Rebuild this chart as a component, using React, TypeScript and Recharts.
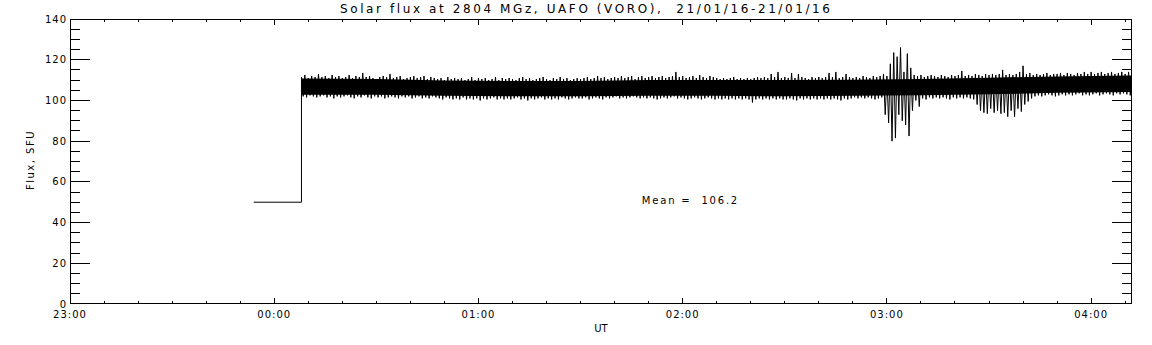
import React from 'react';
import { ComposedChart, Line, Area, XAxis, YAxis, ReferenceDot } from 'recharts';

// time axis: minutes after 23:00 UT
const xTicks = [0, 60, 120, 180, 240, 300];
const xTickLabels = ['23:00', '00:00', '01:00', '02:00', '03:00', '04:00'];
const xMinorTicks = [0, 10, 20, 30, 40, 50, 60, 70, 80, 90, 100, 110, 120, 130, 140, 150, 160, 170, 180, 190, 200, 210, 220, 230, 240, 250, 260, 270, 280, 290, 300, 310];
const yTicks = [0, 20, 40, 60, 80, 100, 120, 140];
const yMinorTicks = [0, 5, 10, 15, 20, 25, 30, 35, 40, 45, 50, 55, 60, 65, 70, 75, 80, 85, 90, 95, 100, 105, 110, 115, 120, 125, 130, 135, 140];

// flat part before the receiver came up
const stepTimes = [54, 68];
const stepFlux = [50, 50];

// noisy record: upper excursion at each whole minute from 68, lower one half a minute later
const bandStart = 68;
const bandHighs = [
  // 00:08 - 00:47
  111.5, 112.5, 111, 112, 111.5, 113, 111.5, 112, 111, 112.5, 111.5, 112, 111, 111.5, 112.5, 111, 112, 111.5, 113.5, 111.5,
  112, 111, 110.5, 111.5, 112, 111.5, 113, 111, 111.5, 112, 110.5, 111, 111.5, 112, 111, 111.5, 112, 110.5, 111.5, 111,
  // 00:48 - 01:29
  110.5, 111, 110, 111.5, 110.5, 111, 110.5, 111, 110, 110.5, 111.5, 110, 111, 110.5, 111, 110, 110.5, 111.5, 110, 111,
  110.5, 111, 110.5, 110, 111, 111.5, 110.5, 111, 110, 110.5, 111, 111.5, 110.5, 110, 111, 110.5, 111.5, 110.5, 111, 110,
  110.5, 111,
  // 01:30 - 02:09
  110.5, 111, 111.5, 110.5, 111, 112, 111, 111.5, 110.5, 111, 111.5, 111, 112, 111, 111.5, 112, 110.5, 111.5, 112, 111,
  111.5, 112, 111, 111.5, 112, 111, 111.5, 112, 114, 111.5, 112, 111, 111.5, 112, 111, 112.5, 111.5, 111, 112, 111.5,
  // 02:10 - 02:49
  111, 110.5, 111, 110.5, 111, 111.5, 110.5, 111, 110.5, 111, 110.5, 111, 111.5, 111, 111.5, 111, 113, 111.5, 114, 111,
  111.5, 111, 113.5, 111, 113, 111.5, 111, 110.5, 111.5, 111, 111.5, 111, 111.5, 113.5, 111.5, 114, 111, 111.5, 113, 111.5,
  // 02:50 - 03:29
  111, 111.5, 111, 112, 111.5, 111, 112, 111.5, 112, 113, 112, 118, 123.5, 121.5, 126, 114, 123, 116, 112.5, 112,
  112.5, 111.5, 112, 112.5, 112, 111.5, 112.5, 112, 111.5, 112.5, 112, 112.5, 114.5, 112, 112.5, 112, 113, 112.5, 112, 113,
  // 03:30 - 04:12
  112.5, 113, 112.5, 113, 115, 112.5, 113, 112.5, 113, 114, 117, 113, 113.5, 112.5, 113, 112.5, 113, 113.5, 112.5, 113,
  113, 113.5, 112.5, 113.5, 113, 112.5, 113.5, 113, 114, 113, 114, 113, 113.5, 114, 113, 113.5, 114, 113, 113.5, 114,
  113, 114, 113.5,
];
const bandLows = [
  // 00:08 - 00:47
  102, 101.5, 102.5, 102, 101.5, 102, 102.5, 101.5, 102, 101, 102, 101.5, 102, 102.5, 101.5, 101, 102, 101.5, 102.5, 101.5,
  101, 102, 101.5, 102, 101, 101.5, 102, 101.5, 101, 102, 101.5, 102, 101, 101.5, 102, 101, 101.5, 101, 102, 101.5,
  // 00:48 - 01:29
  101, 100.5, 101.5, 101, 100.5, 101, 100.5, 101.5, 100.5, 101, 100.5, 101, 100, 101, 100.5, 101, 101.5, 100.5, 101, 100.5,
  101, 100.5, 101, 101.5, 100.5, 101, 100, 101, 100.5, 101, 101.5, 100.5, 101, 100.5, 101, 100.5, 101.5, 101, 100.5, 101,
  101.5, 101,
  // 01:30 - 02:09
  101, 101.5, 100.5, 101, 101.5, 101, 100.5, 101.5, 101, 101.5, 102, 101, 101.5, 101, 101.5, 102, 101.5, 101, 101.5, 101,
  101.5, 101, 100.5, 101, 101.5, 101, 101.5, 102, 101, 101.5, 101, 100.5, 101, 101.5, 101, 100.5, 101, 101.5, 101, 100.5,
  // 02:10 - 02:49
  101, 100.5, 101, 100.5, 101, 100.5, 101, 100.5, 101, 100.5, 99, 100.5, 101, 100.5, 101, 100.5, 101, 100.5, 101, 100.5,
  100.5, 101, 100.5, 100, 101, 100.5, 101, 100.5, 101, 100.5, 101, 100.5, 101, 100.5, 101, 100.5, 100, 101, 100.5, 101,
  // 02:50 - 03:29
  101.5, 101, 101.5, 101, 101.5, 101, 100.5, 101, 101.5, 93, 89, 80, 81.5, 93, 90, 88, 82.5, 95, 100, 97,
  101, 100.5, 101.5, 101, 101.5, 101, 101.5, 101, 100.5, 101.5, 101, 101.5, 101, 101.5, 101, 100.5, 98, 95, 94, 93.5,
  // 03:30 - 04:11
  96, 94, 95, 93.5, 94, 92, 95, 92, 96, 94.5, 98, 99.5, 101, 102, 102.5, 102, 102.5, 103, 102.5, 102,
  102.5, 103, 102.5, 103, 102.5, 103, 103.5, 102.5, 103, 102.5, 103, 103.5, 102.5, 103, 103.5, 103, 102.5, 103.5, 103, 103.5,
  103, 102.5,
];

// solid core of the band
const coreTimes = [68, 90, 110, 130, 150, 170, 190, 210, 230, 250, 270, 290, 312];
const coreLow = [102.8, 102.8, 102.3, 102, 102, 102.3, 102.3, 102, 102.3, 102.5, 103, 103.8, 104.2];
const coreHigh = [110.8, 110.5, 109.8, 109.5, 109.5, 110, 110, 110, 110.2, 110.5, 111.2, 111.8, 112.3];

const meanText = 'Mean =  106.2';

const fluxRows: { t: number; flux: number }[] = stepTimes.map((t, i) => ({ t, flux: stepFlux[i] }));
bandHighs.forEach((h, i) => {
  fluxRows.push({ t: bandStart + i, flux: h });
  if (i < bandLows.length) fluxRows.push({ t: bandStart + i + 0.5, flux: bandLows[i] });
});
const coreRows = coreTimes.map((t, i) => ({ t, core: [coreLow[i], coreHigh[i]] }));
const stepRows = stepTimes.map((t, i) => ({ t, flux: stepFlux[i] }));

const font = 'DejaVu Sans';
const tickStyle = { fill: '#000', fontSize: 10, fontFamily: font, letterSpacing: 1 };
const lineStyle = { stroke: '#000', strokeWidth: 1, shapeRendering: 'crispEdges' };
const thin = 0.01; // axes need a non-zero size to be drawn
const noLabel = () => <g />; // keeps the tick marks, draws no text

export default function App() {
  return (
    <div style={{ position: 'absolute', left: 0, top: 0, width: 1152, height: 345, background: '#fff' }}>
      <div style={{ position: 'absolute', left: 340, top: 2, fontFamily: font, fontSize: 12, lineHeight: '14px', letterSpacing: 2.6, whiteSpace: 'pre', color: '#000' }}>
        Solar flux at 2804 MGz, UAFO (VORO),  21/01/16-21/01/16
      </div>
      <div style={{ position: 'absolute', left: 30, top: 160, transform: 'translate(-50%, -50%) rotate(-90deg)', fontFamily: font, fontSize: 10, letterSpacing: 1.5, whiteSpace: 'pre', color: '#000' }}>
        Flux, SFU
      </div>
      <ComposedChart width={1152} height={345} margin={{ top: 19, right: 20, bottom: 41, left: 70 }}>
        <XAxis xAxisId="b" type="number" dataKey="t" domain={[0, 312]} allowDataOverflow ticks={xTicks}
          tickFormatter={(v, i) => xTickLabels[i]} tickSize={-6} tickMargin={13} height={thin}
          axisLine={lineStyle} tickLine={lineStyle} tick={tickStyle} interval={0}
          label={{ value: 'UT', position: 'bottom', offset: 21, fill: '#000', fontSize: 10, fontFamily: font }} />
        <XAxis xAxisId="bm" type="number" dataKey="t" domain={[0, 312]} allowDataOverflow ticks={xMinorTicks}
          tickSize={-3} height={thin} axisLine={false} tickLine={lineStyle} tick={noLabel} interval={0} />
        <XAxis xAxisId="t" orientation="top" type="number" dataKey="t" domain={[0, 312]} allowDataOverflow ticks={xTicks}
          tickSize={-6} height={thin} axisLine={lineStyle} tickLine={lineStyle} tick={noLabel} interval={0} />
        <XAxis xAxisId="tm" orientation="top" type="number" dataKey="t" domain={[0, 312]} allowDataOverflow ticks={xMinorTicks}
          tickSize={-3} height={thin} axisLine={false} tickLine={lineStyle} tick={noLabel} interval={0} />
        <YAxis yAxisId="l" type="number" domain={[0, 140]} allowDataOverflow ticks={yTicks} width={thin}
          tickSize={-20} tickMargin={23} axisLine={lineStyle} tickLine={lineStyle} tick={tickStyle} interval={0} />
        <YAxis yAxisId="lm" type="number" domain={[0, 140]} allowDataOverflow ticks={yMinorTicks} width={thin}
          tickSize={-10} axisLine={false} tickLine={lineStyle} tick={noLabel} interval={0} />
        <YAxis yAxisId="r" orientation="right" type="number" domain={[0, 140]} allowDataOverflow ticks={yTicks} width={thin}
          tickSize={-20} axisLine={lineStyle} tickLine={lineStyle} tick={noLabel} interval={0} />
        <YAxis yAxisId="rm" orientation="right" type="number" domain={[0, 140]} allowDataOverflow ticks={yMinorTicks} width={thin}
          tickSize={-10} axisLine={false} tickLine={lineStyle} tick={noLabel} interval={0} />
        {/* invisible series so that the tick-only axes get scales */}
        <Line xAxisId="bm" yAxisId="lm" data={stepRows} dataKey="flux" stroke="none" dot={false} legendType="none" isAnimationActive={false} />
        <Line xAxisId="t" yAxisId="r" data={stepRows} dataKey="flux" stroke="none" dot={false} legendType="none" isAnimationActive={false} />
        <Line xAxisId="tm" yAxisId="rm" data={stepRows} dataKey="flux" stroke="none" dot={false} legendType="none" isAnimationActive={false} />
        <Area xAxisId="b" yAxisId="l" data={coreRows} dataKey="core" type="linear" stroke="none" fill="#000" fillOpacity={1} isAnimationActive={false} />
        <Line xAxisId="b" yAxisId="l" data={fluxRows} dataKey="flux" type="linear" stroke="#000" strokeWidth={1} dot={false} isAnimationActive={false} />
        <ReferenceDot xAxisId="b" yAxisId="l" x={168} y={51} r={0}
          shape={(p: any) => (
            <text x={p.cx} y={p.cy + 4} fill="#000" fontSize={10} fontFamily={font} letterSpacing={1.8} style={{ whiteSpace: 'pre' }}>
              {meanText}
            </text>
          )} />
      </ComposedChart>
    </div>
  );
}
